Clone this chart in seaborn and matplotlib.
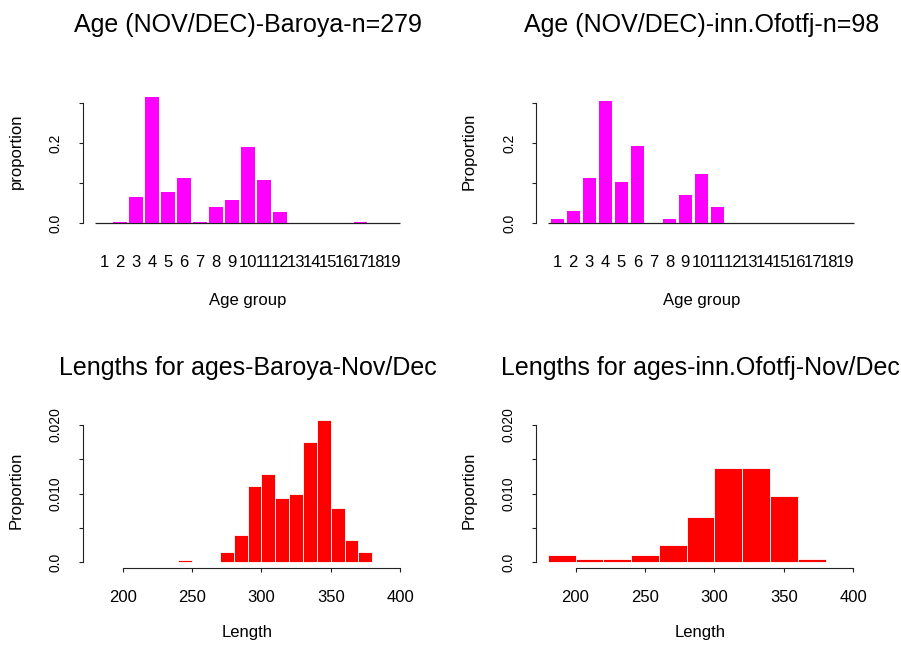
import numpy as np
import pandas as pd
import matplotlib
matplotlib.use("Agg")
import matplotlib.pyplot as plt
import seaborn as sns

sns.set_style("ticks")
plt.rcParams['font.family'] = ['Liberation Sans', 'DejaVu Sans']
for key in ['text.color', 'axes.labelcolor', 'xtick.color', 'ytick.color']:
    plt.rcParams[key] = 'black'

# ---------------- data ----------------
age_groups = [str(i) for i in range(1, 20)]
prop_baroya = [0, 0.0036, 0.065, 0.315, 0.079, 0.113, 0.0036, 0.041, 0.057, 0.190,
               0.108, 0.029, 0, 0, 0, 0, 0.0036, 0, 0]
prop_ofotfj = [0.0102, 0.0306, 0.112, 0.306, 0.102, 0.194, 0, 0.0102, 0.0714, 0.122,
               0.041, 0, 0, 0, 0, 0, 0, 0, 0]

len_edges_baroya = [240, 250, 260, 270, 280, 290, 300, 310, 320, 330, 340, 350, 360, 370, 380]
len_dens_baroya = [0.00036, 0, 0, 0.00143, 0.00394, 0.0111, 0.0129, 0.0093, 0.0100,
                   0.01756, 0.0208, 0.0079, 0.0032, 0.00143]
len_edges_ofotfj = [180, 200, 220, 240, 260, 280, 300, 320, 340, 360, 380]
len_dens_ofotfj = [0.00102, 0.00051, 0.00051, 0.00102, 0.00255, 0.00663, 0.01378,
                   0.01378, 0.00969, 0.00051]

titles = ["Age (NOV/DEC)-Baroya-n=279", "Age (NOV/DEC)-inn.Ofotfj-n=98",
          "Lengths for ages-Baroya-Nov/Dec", "Lengths for ages-inn.Ofotfj-Nov/Dec"]

W, H = 901, 653
fig = plt.figure(figsize=(W / 100, H / 100), dpi=100)


def rect(left, right, top, bottom):
    return [left / W, 1 - bottom / H, (right - left) / W, (bottom - top) / H]


AX = '#222222'


def style_common(ax):
    for s in ['top', 'right']:
        ax.spines[s].set_visible(False)
    for s in ['left', 'bottom']:
        ax.spines[s].set_linewidth(0.8)
        ax.spines[s].set_color(AX)
    ax.tick_params(axis='y', left=True, length=3.2, width=0.8, color=AX, labelsize=10,
                   labelrotation=90, pad=11, labelcolor='black')
    ax.grid(False)


# ---------------- top panels ----------------
top_specs = [(prop_baroya, "proportion", 82.7, 413.5, 0, 24),
             (prop_ofotfj, "Proportion", 536, 866.8, 1, 477)]
for vals, ylab, L, R, k, ylx in top_specs:
    ax = fig.add_axes(rect(L, R, 90.2, 228.4))
    df = pd.DataFrame({"age": age_groups, "prop": vals})
    sns.barplot(data=df, x="age", y="prop", order=age_groups, color="#FF00FF",
                saturation=1, width=1 / 1.2, linewidth=0, ax=ax, zorder=3)
    for p in ax.patches:
        p.set_clip_on(False)
    ax.set_xlim(-1.33, 19.33)
    ax.set_ylim(-0.0128, 0.3328)
    ax.hlines(0, -0.58, 18.5, color=AX, lw=0.9, zorder=2)
    style_common(ax)
    ax.spines['bottom'].set_visible(False)
    ax.spines['left'].set_bounds(0, 0.3)
    ax.set_yticks([0, 0.1, 0.2, 0.3])
    ax.set_yticklabels(["0.0", "", "0.2", ""])
    for lab in ax.get_yticklabels():
        lab.set_va('center')
    ax.tick_params(axis='x', bottom=True, length=0, labelsize=12, pad=19, labelcolor='black')
    ax.set_xlabel("Age group", fontsize=12, labelpad=17)
    ax.set_ylabel(ylab, fontsize=12)
    ax.yaxis.set_label_coords(ylx / W, 1 - 151.5 / H, transform=fig.transFigure)
    ax.set_title(titles[k], fontsize=18, pad=42)

# ---------------- bottom panels ----------------
bot_specs = [(len_edges_baroya, len_dens_baroya, 82.7, 412.3, 2, 24),
             (len_edges_ofotfj, len_dens_ofotfj, 535.5, 865.5, 3, 477)]
for edges, dens, L, R, k, ylx in bot_specs:
    ax = fig.add_axes(rect(L, R, 419.5, 567.7))
    mids = [(edges[i] + edges[i + 1]) / 2 for i in range(len(dens))]
    sns.histplot(x=mids, weights=dens, bins=edges, stat="count", color="#FF0000",
                 edgecolor="white", linewidth=0.6, alpha=1, ax=ax)
    ax.set_xlim(171.2, 408.8)
    ax.set_ylim(-0.0008, 0.0208)
    style_common(ax)
    ax.spines['left'].set_bounds(0, 0.02)
    ax.spines['bottom'].set_bounds(200, 400)
    ax.set_yticks([0, 0.005, 0.01, 0.015, 0.02])
    ax.set_yticklabels(["0.0", "", "0.010", "", "0.020"])
    for lab in ax.get_yticklabels():
        lab.set_va('center')
    ax.set_xticks([200, 250, 300, 350, 400])
    ax.set_xticklabels(["200", "250", "300", "350", "400"])
    ax.tick_params(axis='x', bottom=True, length=3.2, width=0.8, color=AX, labelsize=12,
                   pad=13, labelcolor='black')
    ax.set_xlabel("Length", fontsize=12, labelpad=14)
    ax.set_ylabel("Proportion", fontsize=12)
    ax.yaxis.set_label_coords(ylx / W, 1 - 490 / H, transform=fig.transFigure)
    ax.set_title(titles[k], fontsize=18, pad=32)

fig.savefig("out.png", dpi=100, facecolor="white")
